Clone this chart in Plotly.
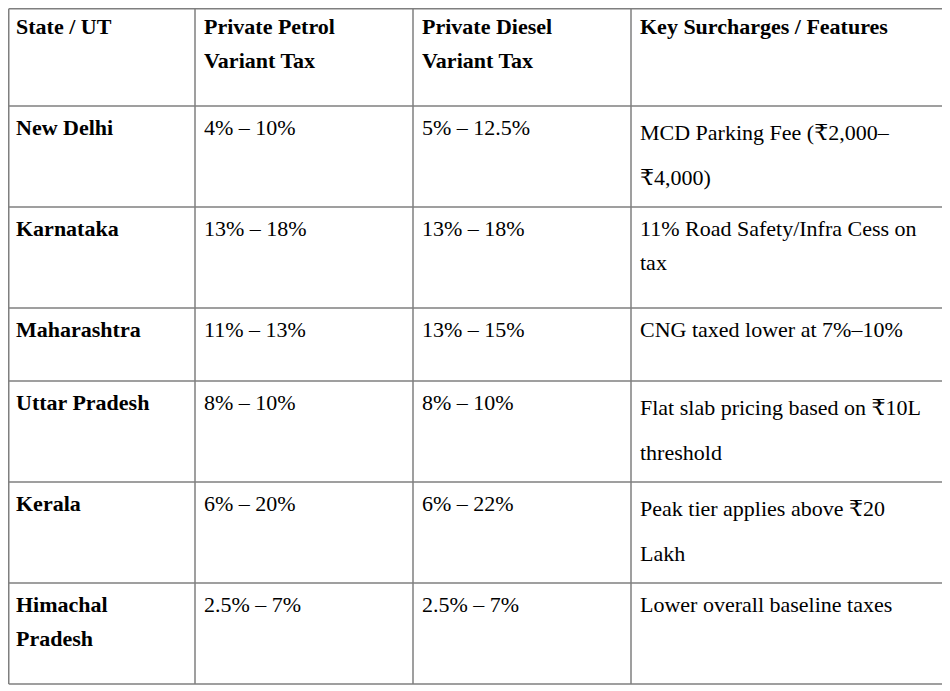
import plotly.graph_objects as go
import numpy as np

# Table contents (line breaks where the reference wraps)
headers = ["State / UT", "Private Petrol<br>Variant Tax", "Private Diesel<br>Variant Tax",
           "Key Surcharges / Features"]
states = ["New Delhi", "Karnataka", "Maharashtra", "Uttar Pradesh", "Kerala", "Himachal<br>Pradesh"]
petrol_tax = ["4% – 10%", "13% – 18%", "11% – 13%", "8% – 10%", "6% – 20%", "2.5% – 7%"]
diesel_tax = ["5% – 12.5%", "13% – 18%", "13% – 15%", "8% – 10%", "6% – 22%", "2.5% – 7%"]
features = [
    "MCD Parking Fee (₹2,000–<br>₹4,000)",
    "11% Road Safety/Infra Cess on<br>tax",
    "CNG taxed lower at 7%–10%",
    "Flat slab pricing based on ₹10L<br>threshold",
    "Peak tier applies above ₹20<br>Lakh",
    "Lower overall baseline taxes",
]

# page is 950x691 but the body has an 8px margin, so the figure sits at (8, 8)
# axis units below are page pixels
W, H = 950, 691
body = 8
col_widths = [188, 218, 218, 312]
row_heights = [101, 101, 101, 73, 101, 101, 101]
left, top = 7, 5
pad_x = 7
line_w = 1.5
grid_color = "#7f7f7f"

x_edges = left + np.concatenate([[0], np.cumsum(col_widths)])
y_edges = top + np.concatenate([[0], np.cumsum(row_heights)])
edge_min = body + line_w / 2

fig = go.Figure()

for x in x_edges:
    xx = max(x, edge_min)
    fig.add_shape(type="line", x0=xx, x1=xx, y0=max(y_edges[0], edge_min), y1=y_edges[-1],
                  line=dict(color=grid_color, width=line_w))
for y in y_edges:
    yy = max(y, edge_min)
    fig.add_shape(type="line", x0=max(x_edges[0], edge_min), x1=x_edges[-1], y0=yy, y1=yy,
                  line=dict(color=grid_color, width=line_w))

rows = [headers] + [list(r) for r in zip(states, petrol_tax, diesel_tax, features)]

for r, row in enumerate(rows):
    for c, text in enumerate(row):
        bold = r == 0 or c == 0
        # the rupee glyph falls back to a taller font, which spreads the lines
        rupee = "₹" in text
        first = 26 if rupee else 21
        gap = 45 if rupee else 34
        for i, line in enumerate(text.split("<br>")):
            fig.add_annotation(
                x=x_edges[c] + pad_x,
                y=y_edges[r] + first + i * gap,
                text=line,
                showarrow=False,
                xanchor="left",
                yanchor="middle",
                font=dict(family="Liberation Serif, DejaVu Serif, serif", size=22,
                          color="black", weight="bold" if bold else "normal"),
            )

fig.update_xaxes(range=[body, W], visible=False, fixedrange=True)
fig.update_yaxes(range=[H, body], visible=False, fixedrange=True)
fig.update_layout(
    width=W - body,
    height=H - body,
    margin=dict(l=0, r=0, t=0, b=0),
    plot_bgcolor="white",
    paper_bgcolor="white",
    showlegend=False,
)

fig.write_html("out.html")
